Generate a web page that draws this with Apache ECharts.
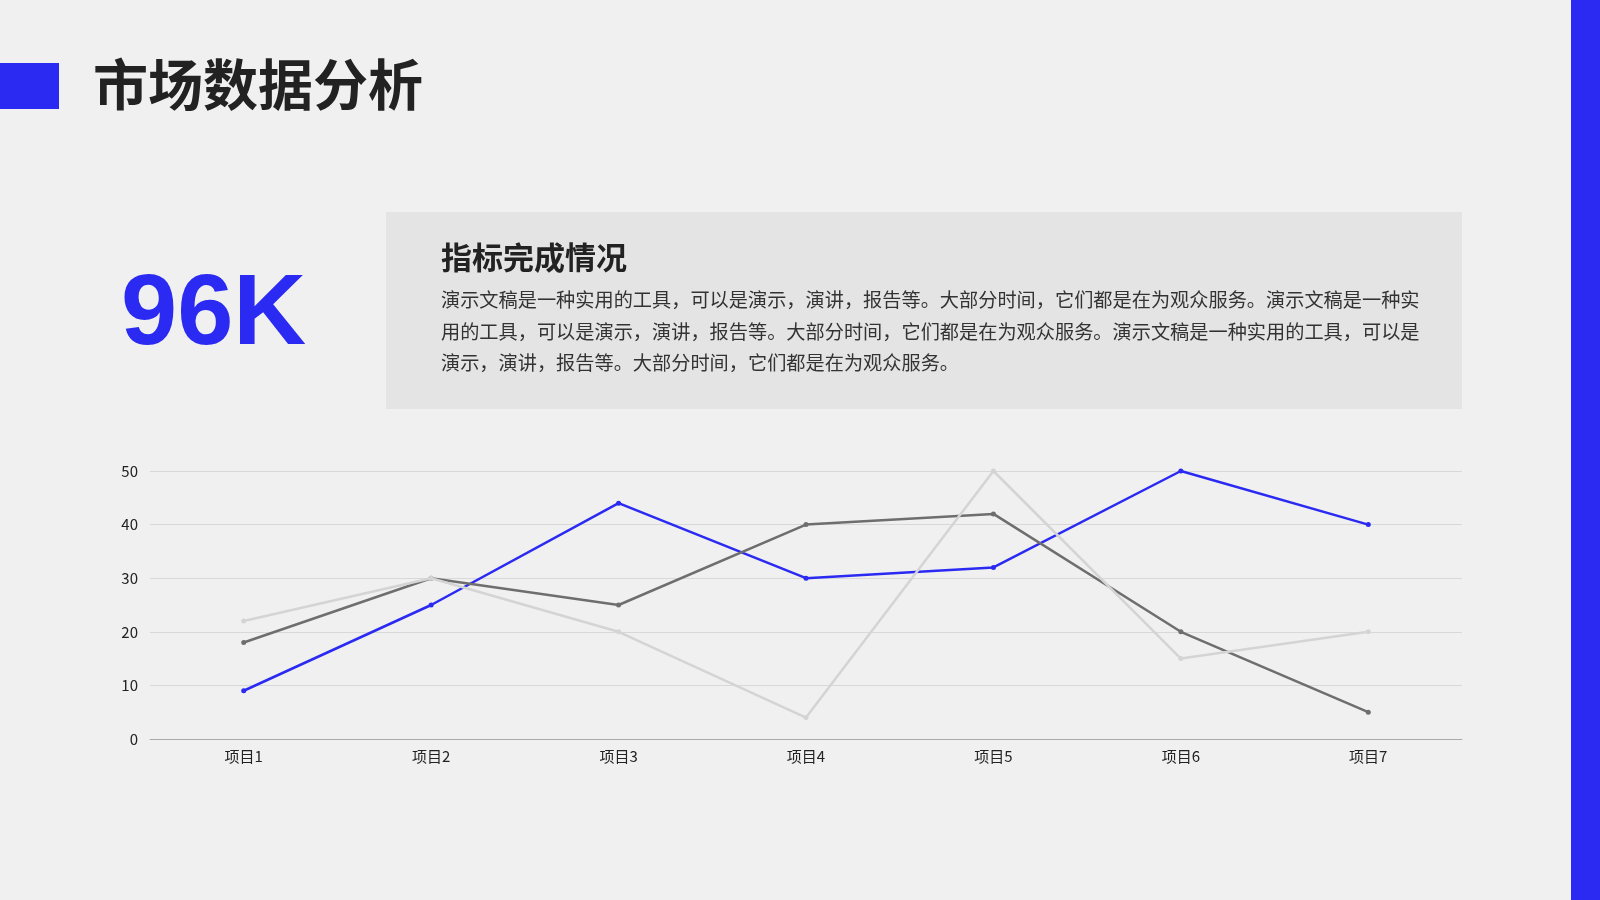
<!DOCTYPE html>
<html lang="zh">
  <head>
    <meta charset="UTF-8" />
    <title>市场数据分析</title>
    <script src="https://cdn.jsdelivr.net/npm/echarts@6/dist/echarts.min.js"></script>
    <style>
      html, body { margin: 0; padding: 0; background: #f0f0f0; }
    </style>
  </head>
  <body>
    <div id="main" style="width: 1600px; height: 900px"></div>
    <script type="text/javascript">
      // chart data
      let categories = ["项目1", "项目2", "项目3", "项目4", "项目5", "项目6", "项目7"]
      let seriesBlue = [9, 25, 44, 30, 32, 50, 40]
      let seriesDark = [18, 30, 25, 40, 42, 20, 5]
      let seriesLight = [22, 30, 20, 4, 50, 15, 20]
      let yTicks = { min: 0, max: 50, interval: 10 }

      let bodyLines = [
        "演示文稿是一种实用的工具，可以是演示，演讲，报告等。大部分时间，它们都是在为观众服务。演示文稿是一种实",
        "用的工具，可以是演示，演讲，报告等。大部分时间，它们都是在为观众服务。演示文稿是一种实用的工具，可以是",
        "演示，演讲，报告等。大部分时间，它们都是在为观众服务。"
      ]

      let cjk = '"Noto Sans CJK SC", "Noto Sans", sans-serif'
      let blue = "#2a2af2"

      function makeLine(name, data, color, z) {
        return {
          name: name,
          type: "line",
          data: data,
          z: z,
          symbol: "circle",
          symbolSize: 5,
          lineStyle: { color: color, width: 2.5 },
          itemStyle: { color: color },
          emphasis: { disabled: true }
        }
      }

      let options = {
        backgroundColor: "#f0f0f0",
        animation: false,
        textStyle: { fontFamily: cjk },
        grid: { left: 150, right: 138, top: 471, bottom: 161 },
        xAxis: {
          type: "category",
          data: categories,
          boundaryGap: true,
          axisLine: { lineStyle: { color: "#aaaaaa", width: 1 } },
          axisTick: { show: false },
          axisLabel: { color: "#222", fontSize: 15, margin: 10, fontFamily: cjk }
        },
        yAxis: {
          type: "value",
          min: yTicks.min,
          max: yTicks.max,
          interval: yTicks.interval,
          axisLine: { show: false },
          axisTick: { show: false },
          splitLine: { lineStyle: { color: "#d8d8d8", width: 1 } },
          axisLabel: { color: "#222", fontSize: 15, margin: 12, fontFamily: cjk }
        },
        series: [
          makeLine("系列1", seriesBlue, blue, 2),
          makeLine("系列2", seriesDark, "#6e6e6e", 3),
          makeLine("系列3", seriesLight, "#d4d4d4", 4)
        ],
        graphic: [
          // left accent square
          { type: "rect", left: 0, top: 63, shape: { width: 59, height: 46 }, style: { fill: blue } },
          // right edge bar
          { type: "rect", left: 1571, top: 0, shape: { width: 29, height: 900 }, style: { fill: blue } },
          {
            type: "text", left: 93, top: 57,
            style: { text: "市场数据分析", fill: "#222", font: "bold 55px " + cjk }
          },
          // description panel
          { type: "rect", left: 386, top: 212, shape: { width: 1076, height: 197 }, style: { fill: "#e4e4e4" } },
          {
            type: "text", left: 121, top: 266,
            style: { text: "96K", fill: blue, font: 'bold 101px "Liberation Sans", Arial, sans-serif' }
          },
          {
            type: "text", left: 441, top: 242,
            style: { text: "指标完成情况", fill: "#222", font: "bold 31px " + cjk }
          },
          {
            type: "text", left: 441, top: 284,
            style: {
              text: bodyLines.join("\n"),
              fill: "#333",
              font: "19.2px " + cjk,
              lineHeight: 31.5
            }
          }
        ]
      }

      let myChart = echarts.init(document.getElementById("main"))
      myChart.setOption(options)
    </script>
  </body>
</html>
